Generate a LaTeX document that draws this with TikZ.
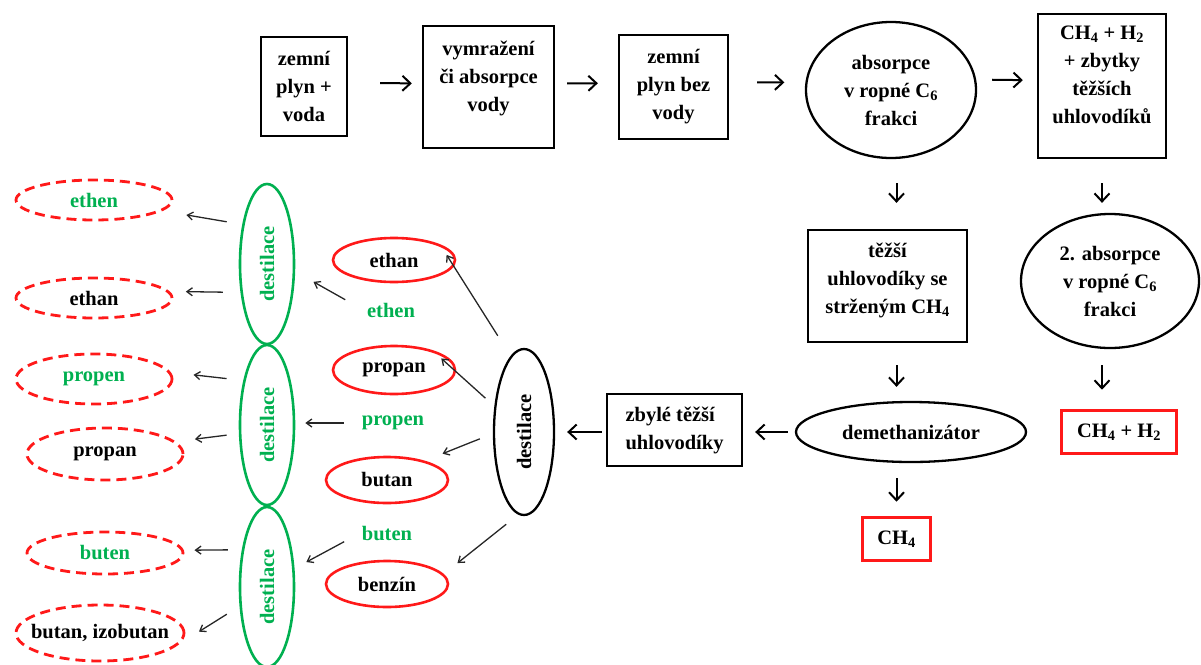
\documentclass[tikz,border=0pt]{standalone}
\usepackage{fontspec}
\setmainfont{Liberation Serif}
\usepackage{graphicx}
\usetikzlibrary{shapes.geometric, arrows.meta}
\definecolor{flowred}{RGB}{255,25,25}
\definecolor{flowgreen}{RGB}{0,176,80}
\begin{document}
\begin{tikzpicture}[x=1pt, y=-1pt,
  font=\fontsize{20.5}{28}\selectfont\bfseries,
  box/.style={draw, line width=2.3pt, rectangle, inner sep=0pt, align=center},
  txt/.style={inner sep=0pt, align=center},
  ell/.style={draw, line width=2.3pt, ellipse, inner sep=0pt, align=center},
  redbox/.style={draw=flowred, line width=3.6pt, rectangle, inner sep=0pt},
  redell/.style={draw=flowred, line width=2.6pt, ellipse, inner sep=0pt,
    minimum width=122pt},
  dashell/.style={draw=flowred, line width=2.8pt, dash pattern=on 10pt off 6pt,
    ellipse, inner sep=0pt, minimum width=156pt},
  greenell/.style={draw=flowgreen, line width=2.6pt, ellipse, inner sep=0pt,
    text=flowgreen, minimum width=54pt, minimum height=160pt},
  greentext/.style={text=flowgreen, inner sep=3.33pt},
  flow/.style={-{Straight Barb[length=8pt,width=15pt]}, line width=2pt},
  thinarrow/.style={-{Straight Barb[length=5.5pt,width=8pt]}, line width=1.3pt,
    draw=black!85}]
\useasboundingbox (0,0) rectangle (1201,664);

% main line of the process
\node[box, minimum width=86pt, minimum height=99pt] (b1) at (304,86.5) {zemní\\plyn +\\voda};
\node[box, minimum width=131pt, minimum height=122pt] (b2) at (488.5,87) {};
\node[txt] (b2t) at (488.5,78) {vymražení\\či absorpce\\vody};
\node[box, minimum width=109pt, minimum height=104pt] (b3) at (673.5,87) {zemní\\plyn bez\\vody};
\node[ell, minimum width=170pt, minimum height=136pt] (abs) at (891,90) {absorpce\\v ropné C\textsubscript{6}\\frakci};
\node[box, minimum width=128pt, minimum height=144pt] (zb) at (1102,86) {};
\node[txt] (zbt) at (1102,75) {CH\textsubscript{4} + H\textsubscript{2}\\+ zbytky\\těžších\\uhlovodíků};

\node[box, minimum width=159pt, minimum height=112pt] (tz) at (887.5,286) {};
\node[txt] (tzt) at (887.5,280) {těžší\\uhlovodíky se\\strženým CH\textsubscript{4}};
\node[ell, minimum width=178pt, minimum height=134pt] (ab2) at (1110,281) {2. absorpce\\v ropné C\textsubscript{6}\\frakci};

\node[ell, minimum width=230pt, minimum height=60pt] (dem) at (911,432) {demethanizátor};
\node[redbox, minimum width=115pt, minimum height=43pt] (ch4h2) at (1119,432) {CH\textsubscript{4} + H\textsubscript{2}};
\node[redbox, minimum width=68pt, minimum height=43pt] (ch4) at (896.5,539) {CH\textsubscript{4}};
\node[box, minimum width=135pt, minimum height=72pt, align=left] (zbl) at (674.5,430) {zbylé těžší\\uhlovodíky};

% first distillation
\node[ell, minimum width=60pt, minimum height=166pt] (dest) at (524,432) {\rotatebox{90}{destilace}};
\node[redell, minimum height=44pt] (r1) at (394,260) {ethan};
\node[redell, minimum height=48pt] (r2) at (394,370) {propan};
\node[redell, minimum height=46pt] (r3) at (387,480) {butan};
\node[redell, minimum height=46pt] (r4) at (387,584) {benzín};
\node[greentext] (ethenT) at (391,310) {ethen};
\node[greentext] (propenT) at (393,423) {propen};
\node[greentext] (butenT) at (387,534) {buten};

% second distillations
\node[greenell] (g1) at (267,264) {\rotatebox{90}{destilace}};
\node[greenell] (g2) at (267,425) {\rotatebox{90}{destilace}};
\node[greenell] (g3) at (267,587) {\rotatebox{90}{destilace}};

% final products
\node[dashell, minimum height=40pt, text=flowgreen] (d1) at (94,200) {ethen};
\node[dashell, minimum height=40pt] (d2) at (94,298) {ethan};
\node[dashell, minimum height=50pt, text=flowgreen] (d3) at (94,379) {propen};
\node[dashell, minimum height=52pt] (d4) at (105,454) {propan};
\node[dashell, minimum height=42pt, text=flowgreen] (d5) at (105,553) {buten};
\node[dashell, minimum width=168pt, minimum height=56pt] (d6) at (100,633) {\makebox[0pt]{butan, izobutan}};

% process arrows
\draw[flow, shorten <=32pt, shorten >=10pt] (b1.5) -- (b2.177);
\draw[flow, shorten <=12pt, shorten >=20pt] (b2.3) -- (b3.176);
\draw[flow, shorten <=28pt, shorten >=21pt] (b3.5) -- (abs.175);
\draw[flow, shorten <=16pt, shorten >=14pt] (abs.7) -- (zb.175);
\draw[flow, shorten <=24pt, shorten >=26pt] (abs.south -| ch4.north) -- (tz.north -| ch4.north);
\draw[flow, shorten <=22pt, shorten >=14pt] (tz.south -| ch4.north) -- (dem.north -| ch4.north);
\draw[flow, shorten <=15pt, shorten >=14pt] (dem.south -| ch4.north) -- (ch4.north);
\draw[flow, shorten <=24pt, shorten >=10pt] (zb.south) -- (zb.south |- ab2.north);
\draw[flow, shorten <=16pt, shorten >=19pt] (ab2.south -| zb.south) -- (ch4h2.north -| zb.south);
\draw[flow, shorten <=7pt, shorten >=12pt] (dem.west) -- (dem.west -| zbl.east);
\draw[flow, shorten <=4pt, shorten >=12pt] (dest.east -| zbl.west) -- (dest.east);

% distillation arrows
\draw[thinarrow, shorten <=24pt, shorten >=12.6pt] (dest.100) -- (r1.19);
\draw[thinarrow, shorten <=12pt, shorten >=12.7pt] (dest.139) -- (r2.28);
\draw[thinarrow, shorten <=14pt, shorten >=19pt] (dest.183) -- (r3.27);
\draw[thinarrow, shorten <=15.4pt, shorten >=17.5pt] (dest.-94) -- (r4.10);
\draw[thinarrow, shorten <=21pt, shorten >=21pt] (ethenT.west) -- (g1.-15);
\draw[thinarrow, shorten <=14.4pt, shorten >=10pt] (propenT.west) -- (propenT.west -| g2.east);
\draw[thinarrow, shorten <=16.2pt, shorten >=13.4pt] (butenT.west) -- (g3.34);
\draw[thinarrow, shorten <=15.8pt, shorten >=24.3pt] (g1.122) -- (d1.-9);
\draw[thinarrow, shorten <=17.7pt, shorten >=16.3pt] (g1.227) -- (d2.5);
\draw[thinarrow, shorten <=16.8pt, shorten >=22.9pt] (g2.118) -- (d3.5);
\draw[thinarrow, shorten <=12.3pt, shorten >=19.3pt] (g2.197) -- (d4.10);
\draw[thinarrow, shorten <=14pt, shorten >=10.7pt] (g3.124) -- (d5.2);
\draw[thinarrow, shorten <=15pt, shorten >=23.5pt] (g3.215) -- (d6.-8);
\end{tikzpicture}
\end{document}
